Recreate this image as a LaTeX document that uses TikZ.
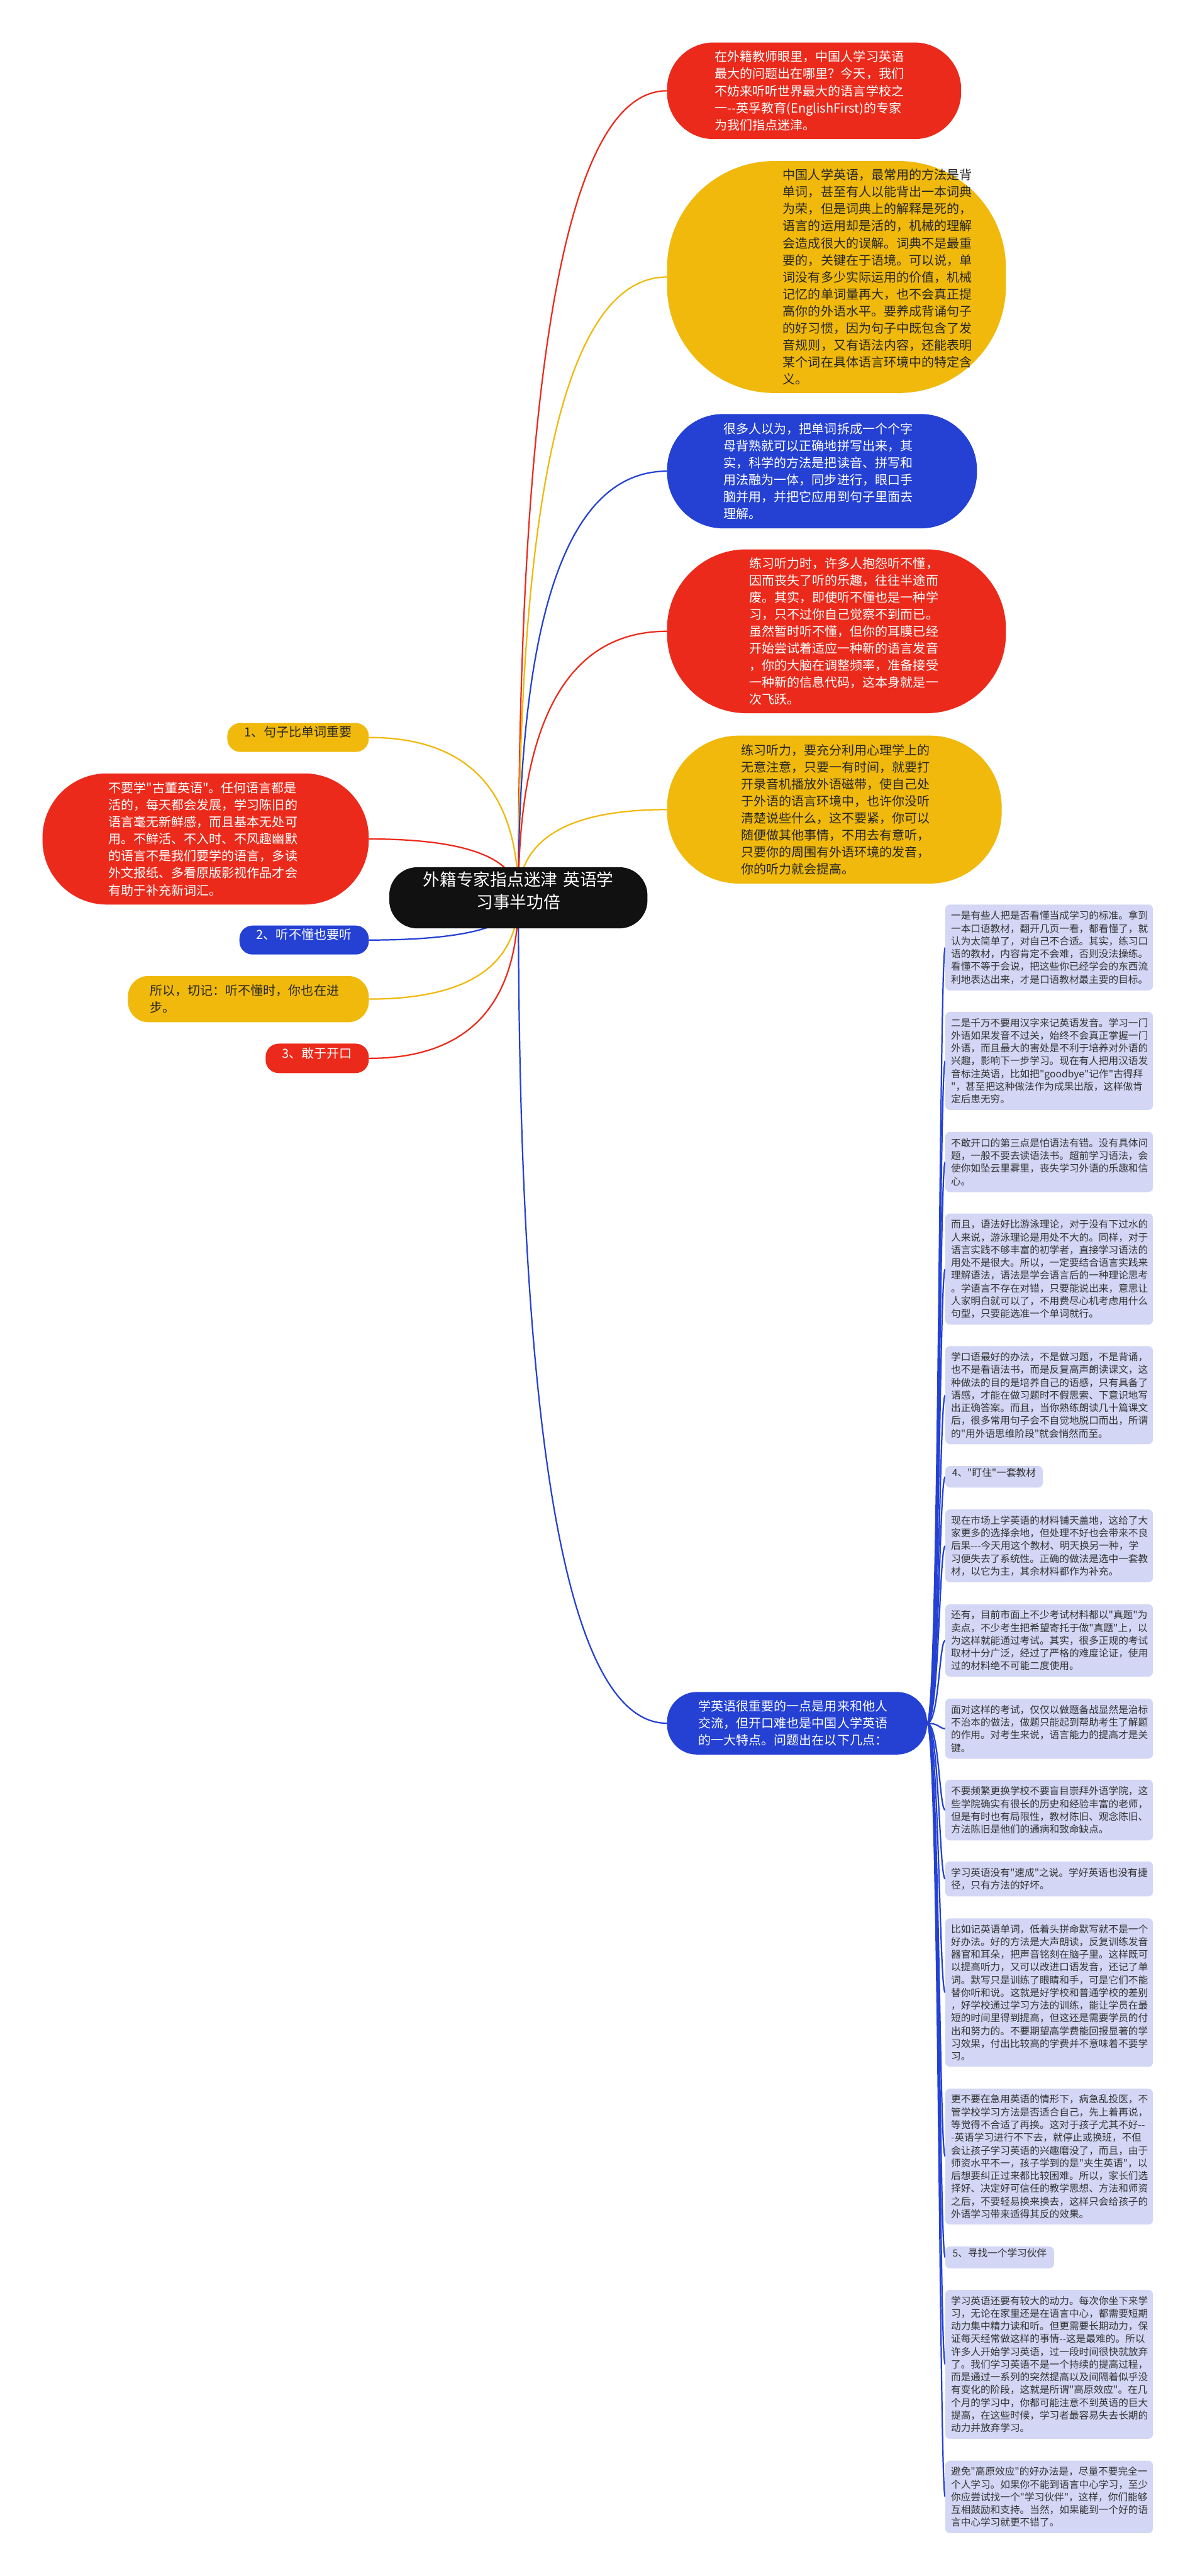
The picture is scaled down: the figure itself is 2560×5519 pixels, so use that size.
\documentclass[tikz,border=0pt]{standalone}
\usepackage{fontspec}
\newfontfamily\cjkfont{Noto Sans CJK SC}
\usetikzlibrary{fit,backgrounds,calc}
\definecolor{cred}{HTML}{EC2A1B}
\definecolor{cyel}{HTML}{F0B90B}
\definecolor{cblue}{HTML}{2441D4}
\definecolor{cnote}{HTML}{D3D7F5}
\definecolor{cdark}{HTML}{262626}
\definecolor{cnotetext}{HTML}{333333}
\definecolor{cblack}{HTML}{111111}
\tikzset{
  shp/.style={inner sep=0pt, outer sep=0pt},
  redshp/.style={shp, fill=cred},
  yelshp/.style={shp, fill=cyel},
  blueshp/.style={shp, fill=cblue},
  bigfont/.style={font=\cjkfont\fontsize{13.5pt}{18.25pt}\selectfont},
  bigtxt/.style={anchor=west, inner sep=0pt, align=left, bigfont},
  wtxt/.style={bigtxt, text=white},
  dtxt/.style={bigtxt, text=cdark},
  notefont/.style={font=\cjkfont\fontsize{10.55pt}{13.65pt}\selectfont},
  note/.style={shp, fill=cnote, rounded corners=5pt},
  ntxt/.style={anchor=west, inner sep=0pt, align=left, text=cnotetext, notefont},
  notesm/.style={shp, fill=cnote, rounded corners=5pt, text=cnotetext, notefont},
  link/.style={line width=1.5pt},
}
\newcommand\qlink[3]{\draw[link,#1] let \p1=(#2), \p2=(#3) in (\p1) .. controls (\x1,{\y1+0.6667*(\y2-\y1)}) and ({\x2+0.6667*(\x1-\x2)},\y2) .. (\p2);}
\newcommand\nlink[1]{\draw[link,cblue] let \p1=(bb.east), \p2=(#1.west) in (\p1) .. controls ({\x1+13pt},\y1) and ({\x1+13pt},\y2) .. (\p2);}
\begin{document}
\begin{tikzpicture}[x=0.5pt,y=-0.5pt]
\useasboundingbox (0,0) rectangle (2560,5519);

% ---------- root ----------
\node[shp, fill=cblack, rounded corners=30pt, fit={(834,1858) (1387,1989)}, align=center, text=white, font=\cjkfont\fontsize{18pt}{24pt}\selectfont] (root) {外籍专家指点迷津 英语学\\习事半功倍};

% ---------- right branch nodes ----------
\node[redshp, rounded corners=50pt, fit={(1429,91) (2059,298)}] (r1) {};
\node[wtxt] (r1t) at (1531,194.5) {在外籍教师眼里，中国人学习英语\\最大的问题出在哪里？今天，我们\\不妨来听听世界最大的语言学校之\\一--英孚教育(EnglishFirst)的专家\\为我们指点迷津。};

\node[yelshp, rounded corners=115pt, fit={(1429,345) (2155,842)}] (r2) {};
\node[dtxt] (r2t) at (1677,593.5) {中国人学英语，最常用的方法是背\\单词，甚至有人以能背出一本词典\\为荣，但是词典上的解释是死的，\\语言的运用却是活的，机械的理解\\会造成很大的误解。词典不是最重\\要的，关键在于语境。可以说，单\\词没有多少实际运用的价值，机械\\记忆的单词量再大，也不会真正提\\高你的外语水平。要养成背诵句子\\的好习惯，因为句子中既包含了发\\音规则，又有语法内容，还能表明\\某个词在具体语言环境中的特定含\\义。};

\node[blueshp, rounded corners=60pt, fit={(1429,887) (2093,1132)}] (r3) {};
\node[wtxt] (r3t) at (1550,1009.5) {很多人以为，把单词拆成一个个字\\母背熟就可以正确地拼写出来，其\\实，科学的方法是把读音、拼写和\\用法融为一体，同步进行，眼口手\\脑并用，并把它应用到句子里面去\\理解。};

\node[redshp, rounded corners=85pt, fit={(1429,1177) (2155,1528)}] (r4) {};
\node[wtxt] (r4t) at (1605,1352.5) {练习听力时，许多人抱怨听不懂，\\因而丧失了听的乐趣，往往半途而\\废。其实，即使听不懂也是一种学\\习，只不过你自己觉察不到而已。\\虽然暂时听不懂，但你的耳膜已经\\开始尝试着适应一种新的语言发音\\，你的大脑在调整频率，准备接受\\一种新的信息代码，这本身就是一\\次飞跃。};

\node[yelshp, rounded corners=77pt, fit={(1429,1576) (2146,1893)}] (r5) {};
\node[dtxt] (r5t) at (1587,1734.5) {练习听力，要充分利用心理学上的\\无意注意，只要一有时间，就要打\\开录音机播放外语磁带，使自己处\\于外语的语言环境中，也许你没听\\清楚说些什么，这不要紧，你可以\\随便做其他事情，不用去有意听，\\只要你的周围有外语环境的发音，\\你的听力就会提高。};

\node[blueshp, rounded corners=32pt, fit={(1429,3625) (1986,3759)}] (bb) {};
\node[wtxt] (bbt) at (1496,3692) {学英语很重要的一点是用来和他人\\交流，但开口难也是中国人学英语\\的一大特点。问题出在以下几点：};

% ---------- left branch nodes ----------
\node[yelshp, rounded corners=14pt, fit={(487,1549) (790,1611)}, bigfont, text=cdark] (l1) {1、句子比单词重要};
\node[redshp, rounded corners=69pt, fit={(91,1657) (790,1938)}] (l2) {};
\node[wtxt] (l2t) at (232,1797.5) {不要学"古董英语"。任何语言都是\\活的，每天都会发展，学习陈旧的\\语言毫无新鲜感，而且基本无处可\\用。不鲜活、不入时、不风趣幽默\\的语言不是我们要学的语言，多读\\外文报纸、多看原版影视作品才会\\有助于补充新词汇。};
\node[blueshp, rounded corners=14pt, fit={(513,1983) (790,2045)}, bigfont, text=white] (l3) {2、听不懂也要听};
\node[yelshp, rounded corners=22pt, fit={(274,2091) (790,2190)}] (l4) {};
\node[dtxt] (l4t) at (321,2140.5) {所以，切记：听不懂时，你也在进\\步。};
\node[redshp, rounded corners=14pt, fit={(569,2236) (790,2299)}, bigfont, text=white] (l5) {3、敢于开口};

% ---------- notes ----------
\node[note, fit={(2025,1938) (2470,2122)}] (n1) {};
\node[ntxt] (n1t) at (2037,2030) {一是有些人把是否看懂当成学习的标准。拿到\\一本口语教材，翻开几页一看，都看懂了，就\\认为太简单了，对自己不合适。其实，练习口\\语的教材，内容肯定不会难，否则没法操练。\\看懂不等于会说，把这些你已经学会的东西流\\利地表达出来，才是口语教材最主要的目标。};
\node[note, fit={(2025,2168) (2470,2378)}] (n2) {};
\node[ntxt] (n2t) at (2037,2273) {二是千万不要用汉字来记英语发音。学习一门\\外语如果发音不过关，始终不会真正掌握一门\\外语，而且最大的害处是不利于培养对外语的\\兴趣，影响下一步学习。现在有人把用汉语发\\音标注英语，比如把"goodbye"记作"古得拜\\"，甚至把这种做法作为成果出版，这样做肯\\定后患无穷。};
\node[note, fit={(2025,2425) (2470,2554)}] (n3) {};
\node[ntxt] (n3t) at (2037,2489.5) {不敢开口的第三点是怕语法有错。没有具体问\\题，一般不要去读语法书。超前学习语法，会\\使你如坠云里雾里，丧失学习外语的乐趣和信\\心。};
\node[note, fit={(2025,2600) (2470,2838)}] (n4) {};
\node[ntxt] (n4t) at (2037,2719) {而且，语法好比游泳理论，对于没有下过水的\\人来说，游泳理论是用处不大的。同样，对于\\语言实践不够丰富的初学者，直接学习语法的\\用处不是很大。所以，一定要结合语言实践来\\理解语法，语法是学会语言后的一种理论思考\\。学语言不存在对错，只要能说出来，意思让\\人家明白就可以了，不用费尽心机考虑用什么\\句型，只要能选准一个单词就行。};
\node[note, fit={(2025,2884) (2470,3094)}] (n5) {};
\node[ntxt] (n5t) at (2037,2989) {学口语最好的办法，不是做习题，不是背诵，\\也不是看语法书，而是反复高声朗读课文，这\\种做法的目的是培养自己的语感，只有具备了\\语感，才能在做习题时不假思索、下意识地写\\出正确答案。而且，当你熟练朗读几十篇课文\\后，很多常用句子会不自觉地脱口而出，所谓\\的"用外语思维阶段"就会悄然而至。};
\node[notesm, fit={(2025,3141) (2234,3187)}] (n6) {4、"盯住"一套教材};
\node[note, fit={(2025,3234) (2470,3390)}] (n7) {};
\node[ntxt] (n7t) at (2037,3312) {现在市场上学英语的材料铺天盖地，这给了大\\家更多的选择余地，但处理不好也会带来不良\\后果---今天用这个教材、明天换另一种，学\\习便失去了系统性。正确的做法是选中一套教\\材，以它为主，其余材料都作为补充。};
\node[note, fit={(2025,3437) (2470,3592)}] (n8) {};
\node[ntxt] (n8t) at (2037,3514.5) {还有，目前市面上不少考试材料都以"真题"为\\卖点，不少考生把希望寄托于做"真题"上，以\\为这样就能通过考试。其实，很多正规的考试\\取材十分广泛，经过了严格的难度论证，使用\\过的材料绝不可能二度使用。};
\node[note, fit={(2025,3639) (2470,3768)}] (n9) {};
\node[ntxt] (n9t) at (2037,3703.5) {面对这样的考试，仅仅以做题备战显然是治标\\不治本的做法，做题只能起到帮助考生了解题\\的作用。对考生来说，语言能力的提高才是关\\键。};
\node[note, fit={(2025,3813) (2470,3943)}] (n10) {};
\node[ntxt] (n10t) at (2037,3878) {不要频繁更换学校不要盲目崇拜外语学院，这\\些学院确实有很长的历史和经验丰富的老师，\\但是有时也有局限性，教材陈旧、观念陈旧、\\方法陈旧是他们的通病和致命缺点。};
\node[note, fit={(2025,3988) (2470,4063)}] (n11) {};
\node[ntxt] (n11t) at (2037,4025.5) {学习英语没有"速成"之说。学好英语也没有捷\\径，只有方法的好坏。};
\node[note, fit={(2025,4110) (2470,4428)}] (n12) {};
\node[ntxt] (n12t) at (2037,4269) {比如记英语单词，低着头拼命默写就不是一个\\好办法。好的方法是大声朗读，反复训练发音\\器官和耳朵，把声音铭刻在脑子里。这样既可\\以提高听力，又可以改进口语发音，还记了单\\词。默写只是训练了眼睛和手，可是它们不能\\替你听和说。这就是好学校和普通学校的差别\\，好学校通过学习方法的训练，能让学员在最\\短的时间里得到提高，但这还是需要学员的付\\出和努力的。不要期望高学费能回报显著的学\\习效果，付出比较高的学费并不意味着不要学\\习。};
\node[note, fit={(2025,4475) (2470,4766)}] (n13) {};
\node[ntxt] (n13t) at (2037,4620.5) {更不要在急用英语的情形下，病急乱投医，不\\管学校学习方法是否适合自己，先上着再说，\\等觉得不合适了再换。这对于孩子尤其不好--\\-英语学习进行不下去，就停止或换班，不但\\会让孩子学习英语的兴趣磨没了，而且，由于\\师资水平不一，孩子学到的是"夹生英语"，以\\后想要纠正过来都比较困难。所以，家长们选\\择好、决定好可信任的教学思想、方法和师资\\之后，不要轻易换来换去，这样只会给孩子的\\外语学习带来适得其反的效果。};
\node[notesm, fit={(2025,4813) (2258,4860)}] (n14) {5、寻找一个学习伙伴};
\node[note, fit={(2025,4906) (2470,5225)}] (n15) {};
\node[ntxt] (n15t) at (2037,5065.5) {学习英语还要有较大的动力。每次你坐下来学\\习，无论在家里还是在语言中心，都需要短期\\动力集中精力读和听。但更需要长期动力，保\\证每天经常做这样的事情--这是最难的。所以\\许多人开始学习英语，过一段时间很快就放弃\\了。我们学习英语不是一个持续的提高过程，\\而是通过一系列的突然提高以及间隔着似乎没\\有变化的阶段，这就是所谓"高原效应"。在几\\个月的学习中，你都可能注意不到英语的巨大\\提高，在这些时候，学习者最容易失去长期的\\动力并放弃学习。};
\node[note, fit={(2025,5272) (2470,5427)}] (n16) {};
\node[ntxt] (n16t) at (2037,5349.5) {避免"高原效应"的好办法是，尽量不要完全一\\个人学习。如果你不能到语言中心学习，至少\\你应尝试找一个"学习伙伴"，这样，你们能够\\互相鼓励和支持。当然，如果能到一个好的语\\言中心学习就更不错了。};

% ---------- connectors ----------
\begin{pgfonlayer}{background}
\fill[white] (0,0) rectangle (2560,5519);
\qlink{cred}{root.center}{r1.west}
\qlink{cyel}{root.center}{r2.west}
\qlink{cblue}{root.center}{r3.west}
\qlink{cred}{root.center}{r4.west}
\qlink{cyel}{root.center}{r5.west}
\qlink{cblue}{root.center}{bb.west}
\qlink{cyel}{root.center}{l1.east}
\qlink{cred}{root.center}{l2.east}
\qlink{cblue}{root.center}{l3.east}
\qlink{cyel}{root.center}{l4.east}
\qlink{cred}{root.center}{l5.east}
\nlink{n1}\nlink{n2}\nlink{n3}\nlink{n4}\nlink{n5}\nlink{n6}\nlink{n7}\nlink{n8}
\nlink{n9}\nlink{n10}\nlink{n11}\nlink{n12}\nlink{n13}\nlink{n14}\nlink{n15}\nlink{n16}
\end{pgfonlayer}
\end{tikzpicture}
\end{document}
